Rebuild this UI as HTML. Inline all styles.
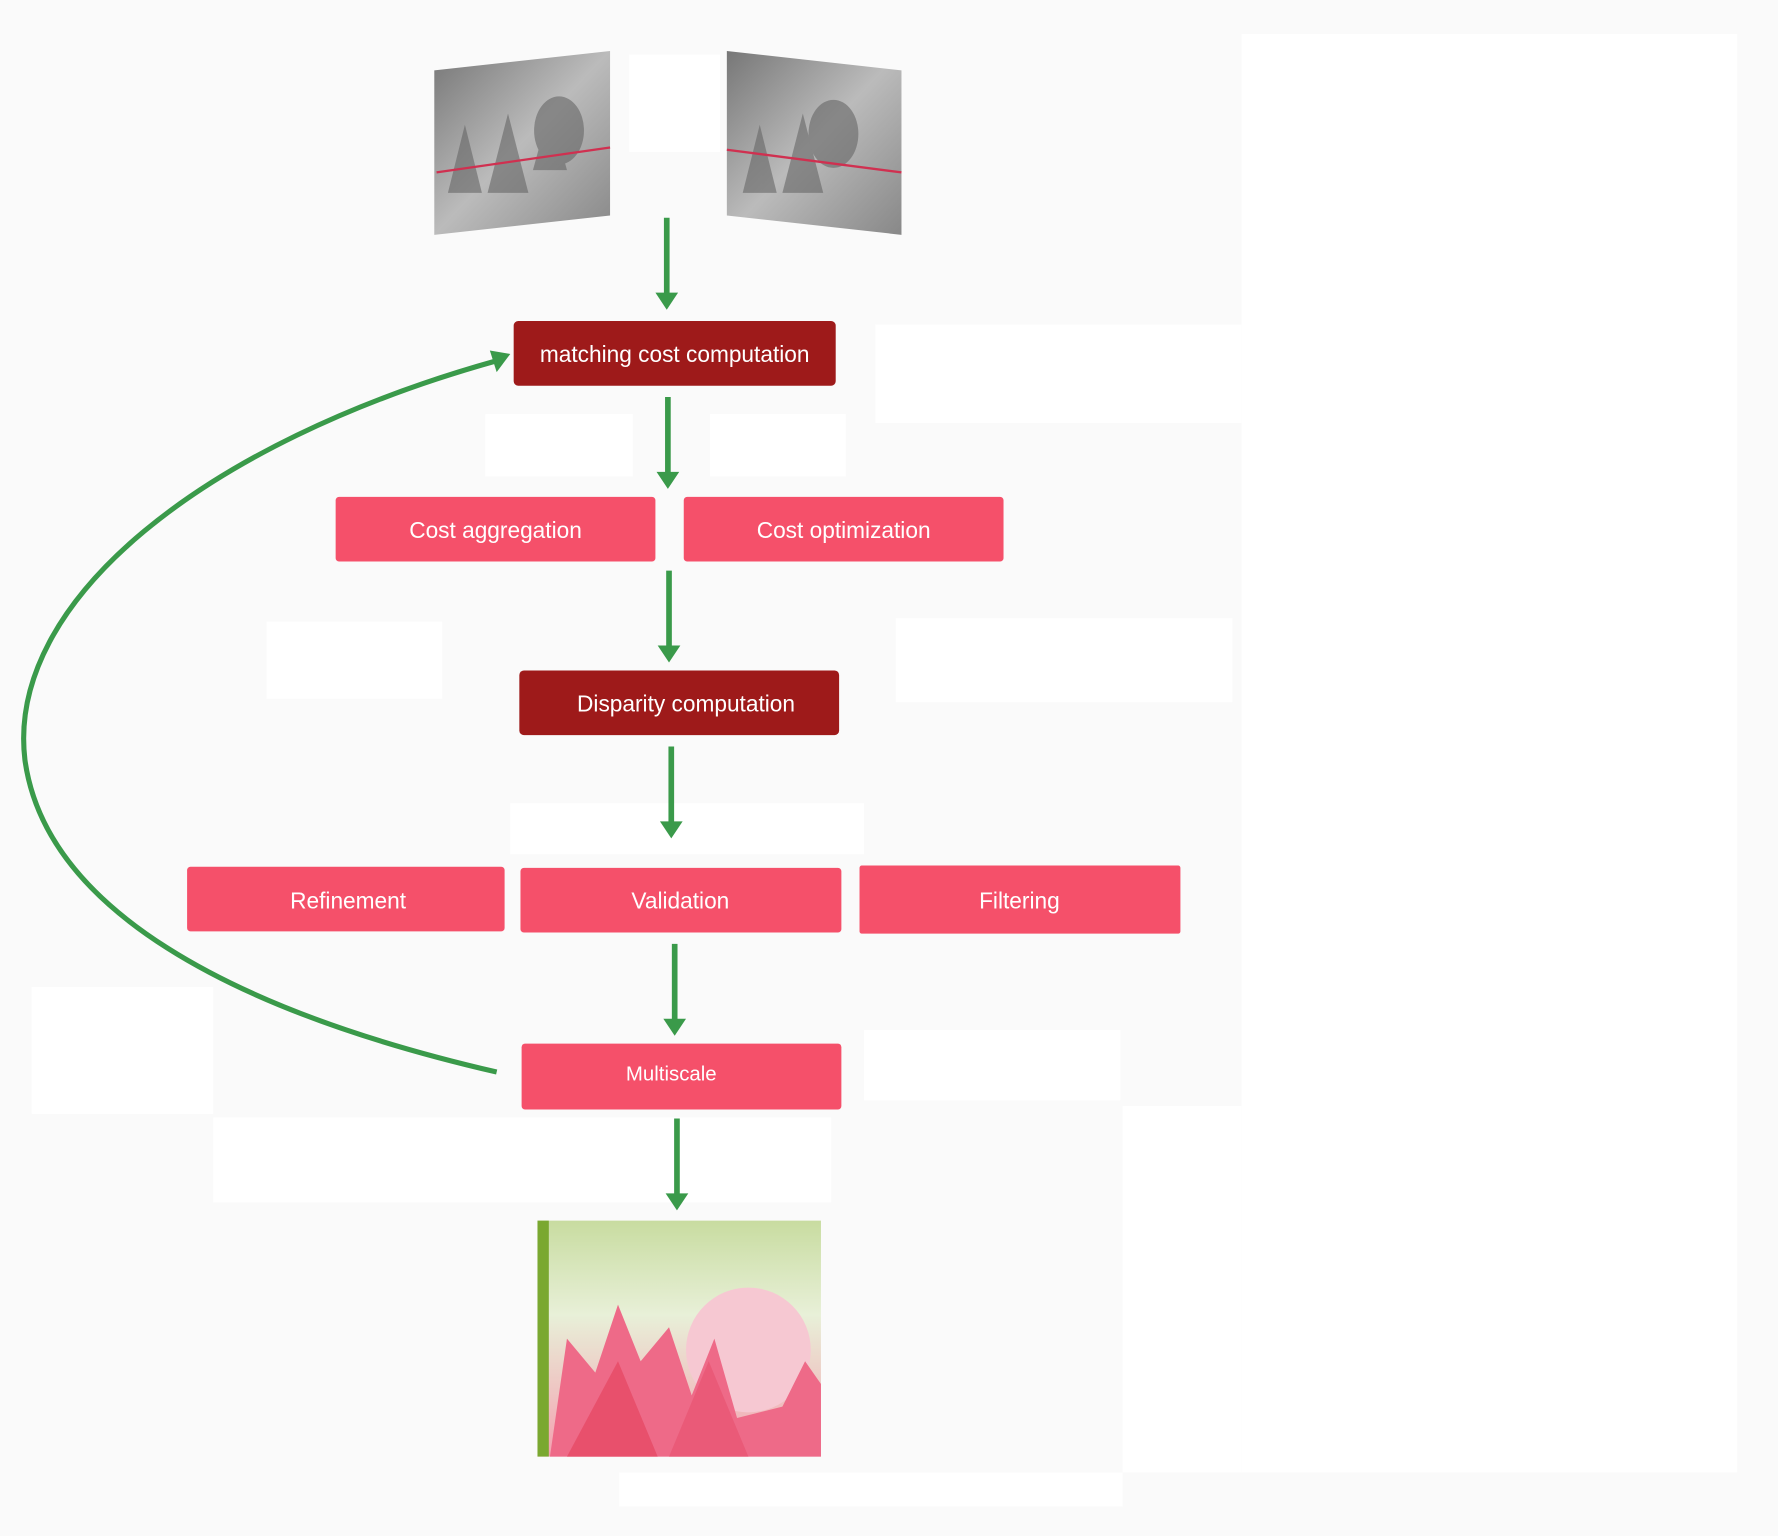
<!DOCTYPE html>
<html><head><meta charset="utf-8"><style>
html,body{margin:0;padding:0;background:#fafafa;}
svg{display:block;}
text{font-family:"Liberation Sans",sans-serif;fill:#fff;text-anchor:middle;dominant-baseline:central;}
</style></head><body>
<svg width="1778" height="1536" viewBox="0 0 1568 1354" preserveAspectRatio="none" xmlns="http://www.w3.org/2000/svg">
<defs>
<marker id="ah" markerWidth="8" markerHeight="8" refX="4" refY="4" orient="auto" markerUnits="userSpaceOnUse" viewBox="0 0 8 8">
</marker>
<linearGradient id="gr" x1="0" y1="0" x2="1" y2="1"><stop offset="0" stop-color="#777"/><stop offset="0.5" stop-color="#bbb"/><stop offset="1" stop-color="#888"/></linearGradient>
<linearGradient id="dm" x1="0" y1="0" x2="0" y2="1"><stop offset="0" stop-color="#c8dca0"/><stop offset="0.4" stop-color="#e8f0d8"/><stop offset="1" stop-color="#f4a0b0"/></linearGradient>
</defs>
<rect width="1568" height="1354" fill="#fafafa"/>
<!-- white patches -->
<rect x="1095" y="30" width="437" height="1268" fill="#fff"/>
<rect x="772" y="286" width="323" height="87" fill="#fff"/>
<rect x="790" y="545" width="297" height="74" fill="#fff"/>
<rect x="235" y="548" width="155" height="68" fill="#fff"/>
<rect x="28" y="870" width="160" height="112" fill="#fff"/>
<rect x="188" y="985" width="545" height="75" fill="#fff"/>
<rect x="990" y="975" width="105" height="323" fill="#fff"/>
<rect x="546" y="1298" width="444" height="30" fill="#fff"/>
<rect x="555" y="48" width="80" height="86" fill="#fff"/>
<rect x="428" y="365" width="130" height="55" fill="#fff"/>
<rect x="626" y="365" width="120" height="55" fill="#fff"/>
<rect x="450" y="708" width="312" height="45" fill="#fff"/>
<rect x="762" y="908" width="226" height="62" fill="#fff"/>
<!-- stereo images -->
<polygon points="383,62 538,45 538,190 383,207" fill="url(#gr)"/>
<polygon points="641,45 795,62 795,207 641,190" fill="url(#gr)"/>
<g fill="#666" opacity="0.6">
<polygon points="395,170 410,110 425,170"/><polygon points="430,170 448,100 466,170"/><polygon points="470,150 485,95 500,150"/>
<ellipse cx="493" cy="115" rx="22" ry="30"/>
<polygon points="655,170 670,110 685,170"/><polygon points="690,170 708,100 726,170"/><ellipse cx="735" cy="118" rx="22" ry="30"/>
</g>
<line x1="385" y1="152" x2="538" y2="130" stroke="#d03050" stroke-width="2"/>
<line x1="641" y1="132" x2="795" y2="152" stroke="#d03050" stroke-width="2"/>
<!-- depth map -->
<rect x="474" y="1076" width="250" height="208" fill="url(#dm)"/>
<rect x="474" y="1076" width="10" height="208" fill="#7aa830"/>
<circle cx="660" cy="1190" r="55" fill="#f6c8d2"/>
<polygon points="485,1284 500,1180 525,1210 545,1150 565,1200 590,1170 610,1230 630,1180 650,1250 690,1240 710,1200 724,1220 724,1284" fill="#ee6a88"/>
<polygon points="500,1284 545,1200 580,1284" fill="#e8506c"/>
<polygon points="590,1284 625,1200 660,1284" fill="#ea5a78"/>
<!-- boxes -->
<g>
<rect x="453" y="283" width="284" height="57" rx="4" fill="#9e1a1a"/>
<text x="595" y="312" font-size="20">matching cost computation</text>
<rect x="296" y="438" width="282" height="57" rx="3" fill="#f5506a"/>
<text x="437" y="467" font-size="20">Cost aggregation</text>
<rect x="603" y="438" width="282" height="57" rx="3" fill="#f5506a"/>
<text x="744" y="467" font-size="20">Cost optimization</text>
<rect x="458" y="591" width="282" height="57" rx="4" fill="#9e1a1a"/>
<text x="605" y="620" font-size="20">Disparity computation</text>
<rect x="165" y="764" width="280" height="57" rx="3" fill="#f5506a"/>
<text x="307" y="794" font-size="20">Refinement</text>
<rect x="459" y="765" width="283" height="57" rx="3" fill="#f5506a"/>
<text x="600" y="794" font-size="20">Validation</text>
<rect x="758" y="763" width="283" height="60" rx="2" fill="#f5506a"/>
<text x="899" y="794" font-size="20">Filtering</text>
<rect x="460" y="920" width="282" height="58" rx="3" fill="#f5506a"/>
<text x="592" y="947" font-size="18">Multiscale</text>
</g>
<!-- arrows -->
<g stroke="#3a9a4a" stroke-width="5" fill="#3a9a4a">
<line x1="588" y1="192" x2="588" y2="262"/><polygon stroke="none" points="578,258 598,258 588,273"/>
<line x1="589" y1="350" x2="589" y2="420"/><polygon stroke="none" points="579,416 599,416 589,431"/>
<line x1="590" y1="503" x2="590" y2="573"/><polygon stroke="none" points="580,569 600,569 590,584"/>
<line x1="592" y1="658" x2="592" y2="728"/><polygon stroke="none" points="582,724 602,724 592,739"/>
<line x1="595" y1="832" x2="595" y2="902"/><polygon stroke="none" points="585,898 605,898 595,913"/>
<line x1="597" y1="986" x2="597" y2="1056"/><polygon stroke="none" points="587,1052 607,1052 597,1067"/>
</g>
<path d="M438,945 C 200,890 40,800 22,670 C 5,530 180,390 438,318" stroke="#3a9a4a" stroke-width="4.5" fill="none"/>
<polygon points="450,312 432,309 438,328" fill="#3a9a4a"/>
</svg>
</body></html>
